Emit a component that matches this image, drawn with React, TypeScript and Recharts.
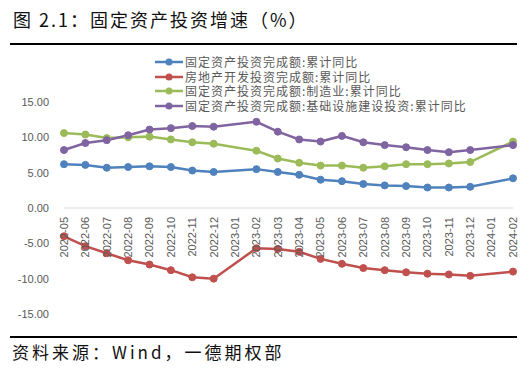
import React from "react";
import { LineChart, Line, XAxis, YAxis, ReferenceLine } from "recharts";

const months = [
  "2022-05", "2022-06", "2022-07", "2022-08", "2022-09", "2022-10", "2022-11", "2022-12",
  "2023-01", "2023-02", "2023-03", "2023-04", "2023-05", "2023-06", "2023-07", "2023-08",
  "2023-09", "2023-10", "2023-11", "2023-12", "2024-01", "2024-02",
];
const fixedAsset = [6.2, 6.1, 5.7, 5.8, 5.9, 5.8, 5.3, 5.1, null, 5.5, 5.1, 4.7, 4.0, 3.8, 3.4, 3.2, 3.1, 2.9, 2.9, 3.0, null, 4.2];
const realEstate = [-4.0, -5.4, -6.4, -7.4, -8.0, -8.8, -9.8, -10.0, null, -5.7, -5.8, -6.2, -7.2, -7.9, -8.5, -8.8, -9.1, -9.3, -9.4, -9.6, null, -9.0];
const manufacturing = [10.6, 10.4, 9.9, 10.0, 10.1, 9.7, 9.3, 9.1, null, 8.1, 7.0, 6.4, 6.0, 6.0, 5.7, 5.9, 6.2, 6.2, 6.3, 6.5, null, 9.4];
const infrastructure = [8.2, 9.2, 9.6, 10.3, 11.1, 11.3, 11.6, 11.5, null, 12.2, 10.8, 9.7, 9.4, 10.2, 9.3, 8.9, 8.6, 8.2, 7.9, 8.2, null, 8.9];
const yTicks = [-15, -10, -5, 0, 5, 10, 15];

const series = [
  { key: "fixed", name: "固定资产投资完成额:累计同比", color: "#4F81BD", values: fixedAsset },
  { key: "estate", name: "房地产开发投资完成额:累计同比", color: "#C0504D", values: realEstate },
  { key: "mfg", name: "固定资产投资完成额:制造业:累计同比", color: "#9BBB59", values: manufacturing },
  { key: "infra", name: "固定资产投资完成额:基础设施建设投资:累计同比", color: "#8064A2", values: infrastructure },
];

const data = months.map((m, i) => {
  const row: Record<string, string | number | null> = { month: m };
  series.forEach((s) => (row[s.key] = s.values[i]));
  return row;
});

const W = 530;
const H = 368;
const PLOT_TOP = 102;
const PLOT_BOTTOM = 314;
const CJK = '"Noto Sans CJK SC", sans-serif';
const LATIN = '"Liberation Sans", Arial, sans-serif';

// x labels sit under the zero line, not at the bottom of the plot
const MonthTick = (props: any) => {
  const { x, payload } = props;
  const zeroY = (PLOT_TOP + PLOT_BOTTOM) / 2;
  return (
    <text
      transform={`translate(${x},${zeroY + 9}) rotate(-90)`}
      textAnchor="end"
      dy="0.35em"
      fill="#595959"
      fontSize={11}
      fontFamily={LATIN}
    >
      {payload.value}
    </text>
  );
};

export default function App() {
  return (
    <div style={{ position: "fixed", left: 0, top: 0, width: W, height: H, background: "#fff", overflow: "hidden" }}>
      <div
        style={{
          position: "absolute", left: 13, top: 7, fontFamily: CJK, fontSize: 18,
          letterSpacing: 2, color: "#111", lineHeight: "24px", whiteSpace: "nowrap",
        }}
      >
        图 2.1：固定资产投资增速（%）
      </div>
      <div style={{ position: "absolute", left: 10, top: 43, width: 507, height: 2, background: "#000" }} />

      <LineChart
        width={W}
        height={H}
        data={data}
        margin={{ top: PLOT_TOP, right: W - 513, bottom: H - PLOT_BOTTOM - 1, left: 0 }}
        style={{ position: "absolute", left: 0, top: 0 }}
      >
        <XAxis dataKey="month" height={1} axisLine={false} tickLine={false} interval={0} tick={<MonthTick />} />
        <YAxis
          width={64}
          domain={[-15, 15]}
          ticks={yTicks}
          axisLine={false}
          tickLine={false}
          tickMargin={9}
          tickFormatter={(v: number) => v.toFixed(2)}
          tick={{ fill: "#595959", fontSize: 11, fontFamily: LATIN }}
        />
        <ReferenceLine y={0} stroke="#d9d9d9" strokeWidth={1} />
        {series.map((s) => (
          <Line
            key={s.key}
            dataKey={s.key}
            name={s.name}
            stroke={s.color}
            strokeWidth={2.5}
            dot={{ r: 3.5, fill: s.color, stroke: s.color, strokeWidth: 1 }}
            connectNulls
            isAnimationActive={false}
          />
        ))}
      </LineChart>

      <div style={{ position: "absolute", left: 155, top: 55 }}>
        {series.map((s) => (
          <div key={s.key} style={{ display: "flex", alignItems: "center", height: 14.5 }}>
            <svg width={30} height={10}>
              <line x1={0} y1={5} x2={28} y2={5} stroke={s.color} strokeWidth={2.5} />
              <circle cx={14} cy={5} r={3.5} fill={s.color} />
            </svg>
            <span
              style={{
                fontFamily: CJK, fontSize: 12, letterSpacing: 1, color: "#595959",
                whiteSpace: "nowrap", lineHeight: "14px",
              }}
            >
              {s.name}
            </span>
          </div>
        ))}
      </div>

      <div style={{ position: "absolute", left: 10, top: 336, width: 507, height: 2, background: "#000" }} />
      <div
        style={{
          position: "absolute", left: 12, top: 340, fontFamily: CJK, fontSize: 17,
          letterSpacing: 3, color: "#111", lineHeight: "24px", whiteSpace: "nowrap",
        }}
      >
        资料来源：Wind，一德期权部
      </div>
    </div>
  );
}
